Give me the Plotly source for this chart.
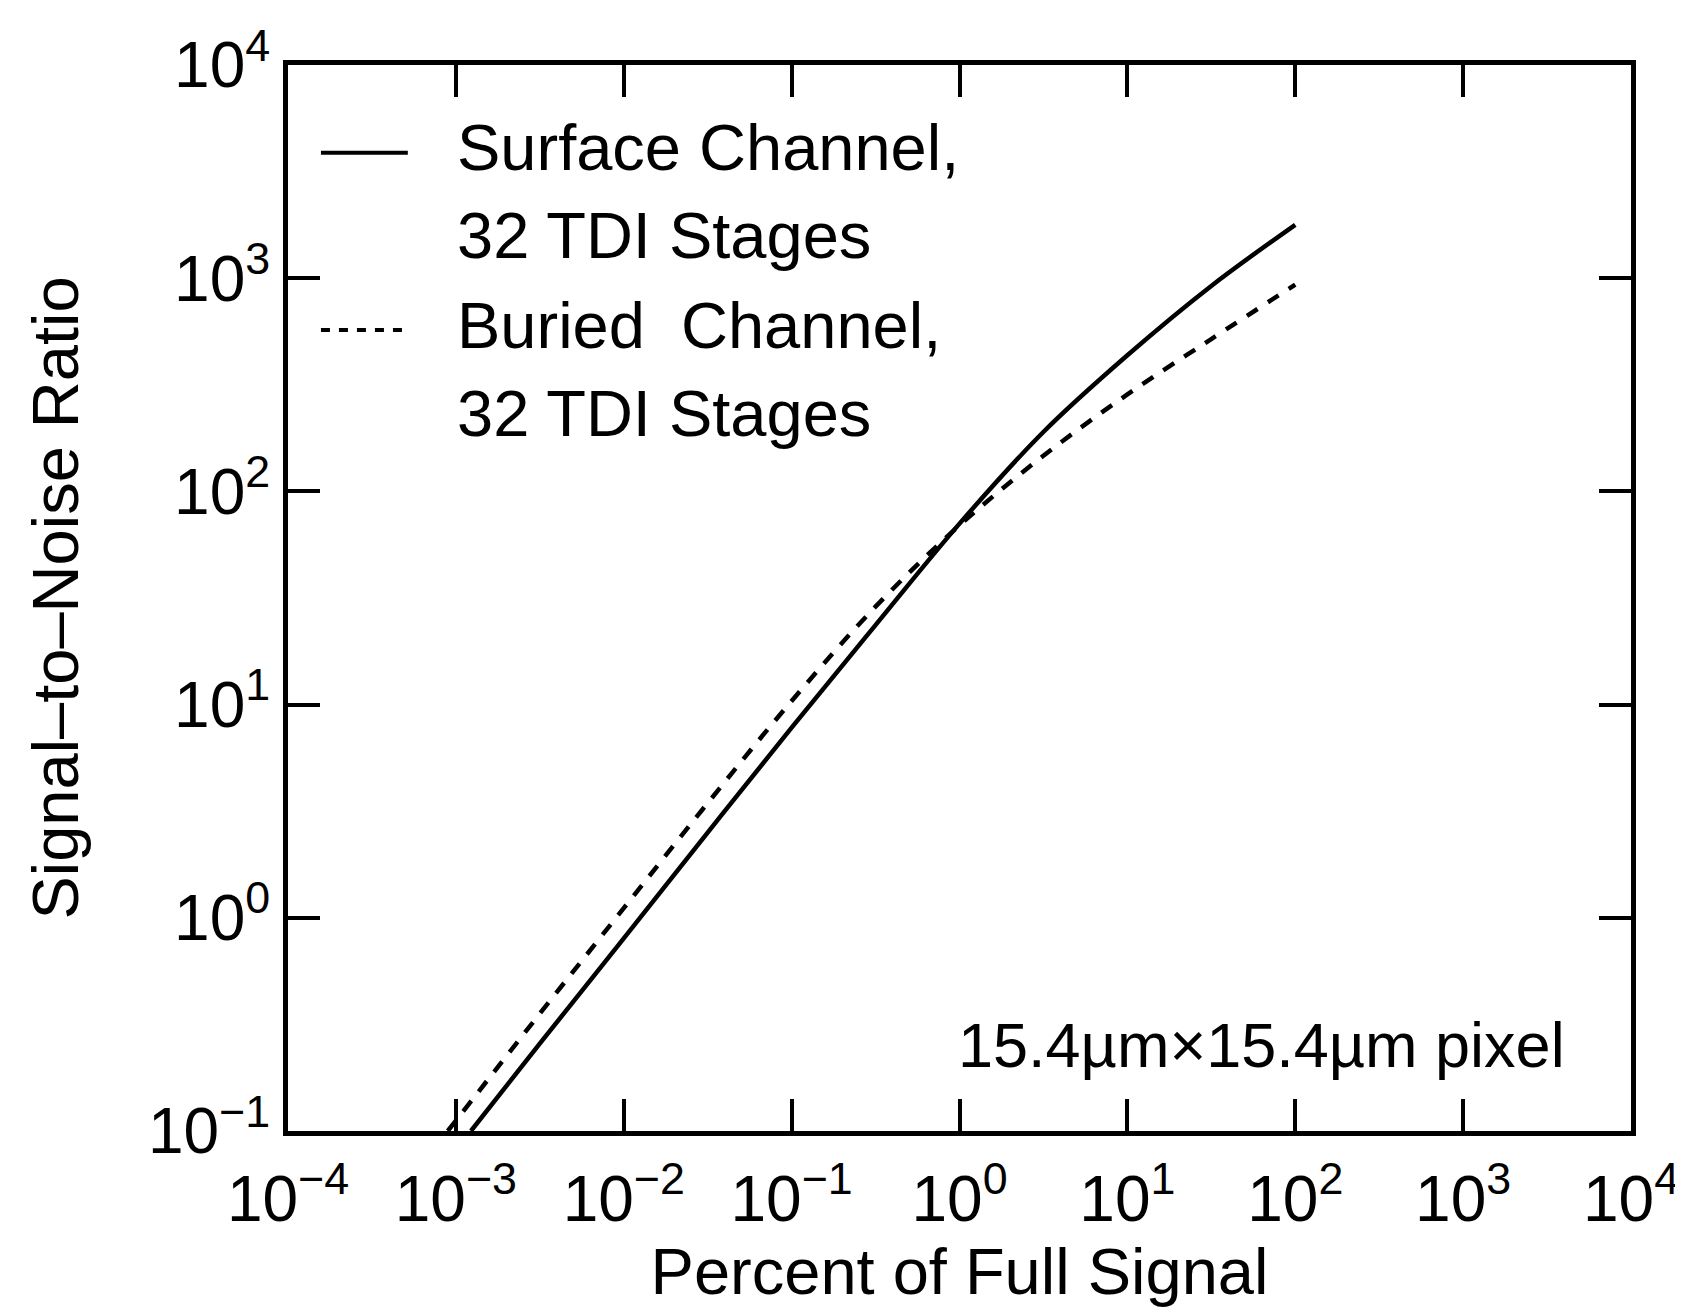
import plotly.graph_objects as go

# ---- data ----
x_surface = [0.00123, 0.00316, 0.01, 0.0316, 0.1, 0.316, 1.0, 3.16, 10.0, 31.6, 100.0]
snr_surface = [0.1, 0.257, 0.80, 2.51, 7.8, 23.6, 70.6, 190, 435, 920, 1780]

x_buried = [0.000895, 0.00316, 0.01, 0.0316, 0.1, 0.316, 1.0, 3.16, 10.0, 31.6, 100.0]
snr_buried = [0.1, 0.355, 1.11, 3.45, 10.4, 28.8, 69.3, 147, 285, 518, 933]

x_tickvals = [1e-4, 1e-3, 1e-2, 1e-1, 1e0, 1e1, 1e2, 1e3, 1e4]
x_ticktext = ["10<sup>−4</sup>", "10<sup>−3</sup>", "10<sup>−2</sup>", "10<sup>−1</sup>",
              "10<sup>0</sup>", "10<sup>1</sup>", "10<sup>2</sup>", "10<sup>3</sup>", "10<sup>4</sup>"]
y_tickvals = [1e-1, 1e0, 1e1, 1e2, 1e3, 1e4]
y_ticktext = ["10<sup>−1</sup>", "10<sup>0</sup>", "10<sup>1</sup>", "10<sup>2</sup>",
              "10<sup>3</sup>", "10<sup>4</sup>"]

surface_label = ["Surface Channel,", "32 TDI Stages"]
buried_label = ["Buried\u00a0 Channel,", "32 TDI Stages"]
note_text = "15.4µm×15.4µm pixel"
x_title = "Percent of Full Signal"
y_title = "Signal–to–Noise Ratio"

FONT = "Liberation Sans, Arial, Helvetica, sans-serif"
W, H = 1683, 1309
L, R, T, B = 280, 58, 53, 186
PW, PH = W - L - R, H - T - B


def px(xp):
    return (xp - L) / PW


def py(yp):
    return (H - B - yp) / PH


DASH = "13px,12px"

fig = go.Figure()
fig.add_trace(go.Scatter(x=x_surface, y=snr_surface, mode="lines", name="Surface Channel",
                         line=dict(color="black", width=4.5, shape="spline")))
fig.add_trace(go.Scatter(x=x_buried, y=snr_buried, mode="lines", name="Buried Channel",
                         line=dict(color="black", width=4.5, dash=DASH, shape="spline")))

shapes = [
    dict(type="line", xref="paper", yref="paper", x0=px(313), x1=px(400), y0=py(141), y1=py(141),
         line=dict(color="black", width=4)),
    dict(type="line", xref="paper", yref="paper", x0=px(313), x1=px(400), y0=py(319), y1=py(319),
         line=dict(color="black", width=4, dash="9px,9px")),
]

annotations = []
for text, ypix in zip(surface_label + buried_label, [141, 229, 319, 408]):
    annotations.append(dict(text=text, xref="paper", yref="paper", x=px(447), y=py(ypix - 5),
                            xanchor="left", yanchor="middle", showarrow=False,
                            font=dict(family=FONT, size=65, color="black")))
annotations.append(dict(text=note_text, xref="paper", yref="paper", x=px(1255), y=py(1037),
                        xanchor="center", yanchor="middle", showarrow=False,
                        font=dict(family=FONT, size=63, color="black")))

axis_common = dict(
    type="log", showline=True, linewidth=5, linecolor="black", mirror="ticks",
    ticks="inside", ticklen=32, tickwidth=4, tickcolor="black",
    showgrid=False, zeroline=False, tickmode="array",
    tickfont=dict(family=FONT, size=64, color="black"),
)

fig.update_layout(
    width=W, height=H, autosize=False,
    margin=dict(l=L, r=R, t=T, b=B),
    paper_bgcolor="white", plot_bgcolor="white",
    showlegend=False,
    xaxis=dict(axis_common, range=[-4, 4], tickvals=x_tickvals, ticktext=x_ticktext,
               ticklabelstandoff=8,
               title=dict(text=x_title, font=dict(family=FONT, size=65, color="black"), standoff=8)),
    yaxis=dict(axis_common, range=[-1, 4], tickvals=y_tickvals, ticktext=y_ticktext,
               title=dict(text=y_title, font=dict(family=FONT, size=65, color="black"), standoff=50)),
    shapes=shapes,
    annotations=annotations,
)

fig.write_html("out.html")
